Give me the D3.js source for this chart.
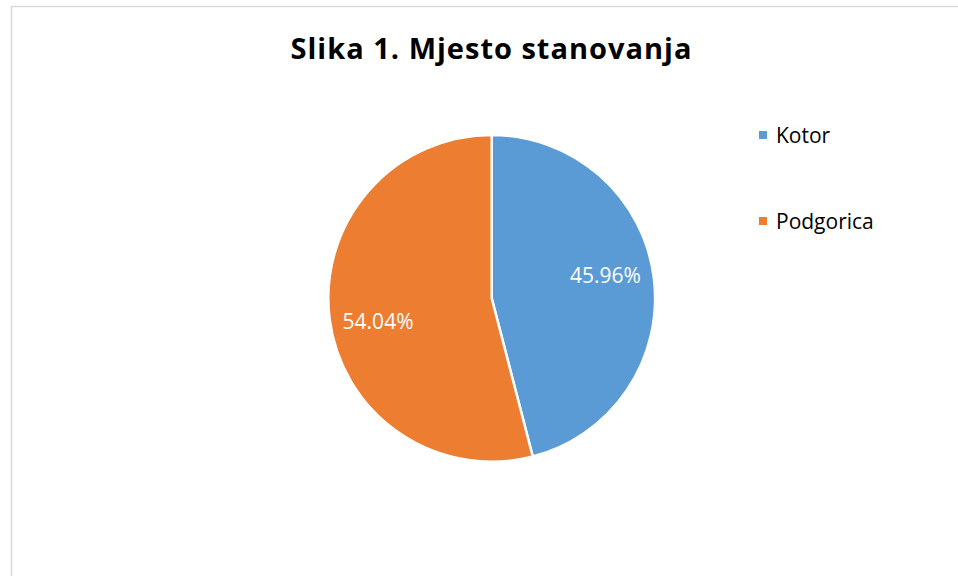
<!DOCTYPE html>
<html><head><meta charset="utf-8">
<script src="https://cdn.jsdelivr.net/npm/d3@7"></script>
<style>body{margin:0;background:#fff;}svg{display:block;}</style>
</head><body>
<script>
const categories = ["Kotor", "Podgorica"];
const values = [45.96, 54.04];
const colors = ["#5B9BD5", "#ED7D31"];
const title = "Slika 1. Mjesto stanovanja";

const W = 958, H = 576;
const svg = d3.select("body").append("svg").attr("width", W).attr("height", H);
svg.append("rect").attr("x", 11.5).attr("y", 6.5).attr("width", W + 10).attr("height", H + 10)
  .attr("fill", "#fff").attr("stroke", "#D9D9D9").attr("stroke-width", 1.5);

const font = "'Open Sans', 'Liberation Sans', sans-serif";
svg.append("text").attr("x", 491.5).attr("y", 58.5).attr("text-anchor", "middle")
  .attr("font-family", font).attr("font-weight", "bold").attr("font-size", 29)
  .attr("letter-spacing", 1).attr("fill", "#000").text(title);

const cx = 491.7, cy = 298.3, R = 163.4;
const data = categories.map((c, i) => ({ name: c, value: values[i], color: colors[i] }));
const pie = d3.pie().value(d => d.value).sort(null);
const arc = d3.arc().innerRadius(0).outerRadius(R);
const g = svg.append("g").attr("transform", `translate(${cx},${cy})`);
const arcs = pie(data);
g.selectAll("path").data(arcs).join("path")
  .attr("d", arc).attr("fill", d => d.data.color)
  .attr("stroke", "#fff").attr("stroke-width", 2.5).attr("stroke-linejoin", "round");
const labelPos = d => {
  const a = (d.startAngle + d.endAngle) / 2 - 0.075, r = R * 0.71;
  return [r * Math.sin(a), -r * Math.cos(a)];
};
g.selectAll("text.lbl").data(arcs).join("text").attr("class", "lbl")
  .attr("transform", d => `translate(${labelPos(d)})`)
  .attr("text-anchor", "middle").attr("dy", "0.36em")
  .attr("font-family", font).attr("font-size", 21).attr("fill", "#fff")
  .text(d => d.data.value.toFixed(2) + "%");

const leg = svg.append("g").attr("transform", "translate(759,131)");
const items = leg.selectAll("g").data(data).join("g").attr("transform", (d, i) => `translate(0,${i * 86})`);
items.append("rect").attr("width", 8).attr("height", 8).attr("fill", d => d.color);
items.append("text").attr("x", 17).attr("y", 11.5).attr("font-family", font).attr("font-size", 21)
  .attr("fill", "#000").text(d => d.name);
</script>
</body></html>
